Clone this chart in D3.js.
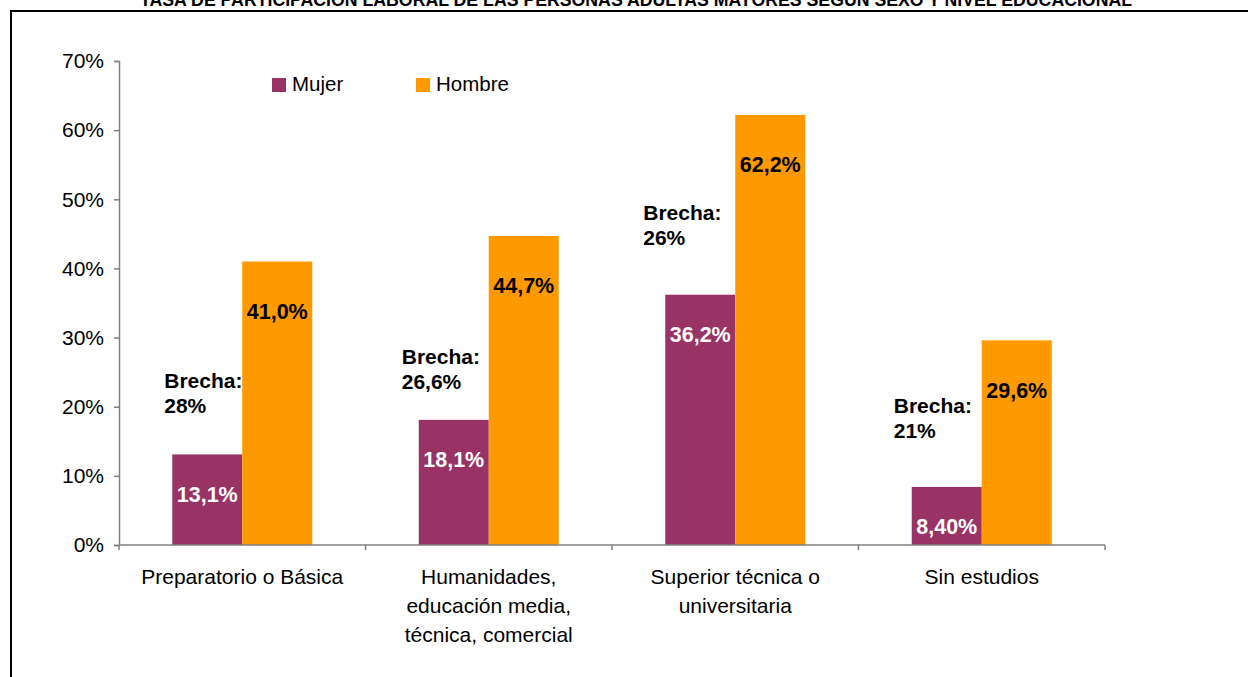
<!DOCTYPE html>
<html>
<head>
<meta charset="utf-8">
<script src="https://cdn.jsdelivr.net/npm/d3@7/dist/d3.min.js"></script>
<style>
  html, body { margin: 0; padding: 0; background: #fff; }
  svg { display: block; font-family: "Liberation Sans", Arial, sans-serif; }
</style>
</head>
<body>
<svg id="chart" width="1248" height="677"></svg>
<script>
const title = "TASA DE PARTICIPACIÓN LABORAL DE LAS PERSONAS ADULTAS MAYORES SEGÚN SEXO Y NIVEL EDUCACIONAL";
const categories = [
  ["Preparatorio o Básica"],
  ["Humanidades,", "educación media,", "técnica, comercial"],
  ["Superior técnica o", "universitaria"],
  ["Sin estudios"]
];
const series = ["Mujer", "Hombre"];
const mujer = [13.1, 18.1, 36.2, 8.4];
const hombre = [41.0, 44.7, 62.2, 29.6];
const mujerLabels = ["13,1%", "18,1%", "36,2%", "8,40%"];
const hombreLabels = ["41,0%", "44,7%", "62,2%", "29,6%"];
const brechaLabels = ["28%", "26,6%", "26%", "21%"];
const brechaLevel = [23.7, 27.2, 48.0, 20.2];
const yTicks = [0, 10, 20, 30, 40, 50, 60, 70];
const colors = { Mujer: "#993366", Hombre: "#FF9900" };

(function () {
const svg = d3.select("#chart");

// frame
svg.append("rect").attr("x", 11).attr("y", 11).attr("width", 1400).attr("height", 800)
  .attr("fill", "none").attr("stroke", "#000").attr("stroke-width", 2);

// title
svg.append("text").attr("x", 636).attr("y", 6).attr("text-anchor", "middle")
  .attr("font-family", "'Liberation Sans Narrow', 'Arial Narrow', 'Liberation Sans', sans-serif")
  .attr("font-weight", "bold").attr("font-size", 18)
  .attr("textLength", 992).attr("lengthAdjust", "spacingAndGlyphs")
  .text(title);

const pl = 119, pr = 1105, pt = 61, pb = 545;
const idx = d3.range(categories.length);
const x0 = d3.scaleBand().domain(idx).range([pl, pr]).padding(0);
const bw = x0.bandwidth();
const groupW = 140;
const x1 = d3.scaleBand().domain(series).range([(bw - groupW) / 2, (bw + groupW) / 2]).padding(0);
const y = d3.scaleLinear().domain([0, 70]).range([pb, pt]);

// y axis
const yAxis = svg.append("g").attr("transform", `translate(${pl},0)`)
  .call(d3.axisLeft(y).tickValues(yTicks).tickSize(5).tickPadding(10).tickFormat(d => d + "%"));
yAxis.select(".domain").attr("stroke", "#808080").attr("stroke-width", 1.5);
yAxis.selectAll(".tick line").attr("stroke", "#808080").attr("stroke-width", 1.5);
yAxis.selectAll(".tick text").attr("font-size", 21).attr("fill", "#000")
  .attr("font-family", "'Liberation Sans', Arial, sans-serif");

// bars
const data = idx.map(i => ({ i, Mujer: mujer[i], Hombre: hombre[i] }));
const g = svg.append("g");
const groups = g.selectAll("g.cat").data(data).join("g").attr("class", "cat")
  .attr("transform", d => `translate(${x0(d.i)},0)`);
groups.selectAll("rect").data(d => series.map(s => ({ s, v: d[s] }))).join("rect")
  .attr("x", d => x1(d.s)).attr("width", x1.bandwidth())
  .attr("y", d => y(d.v)).attr("height", d => y(0) - y(d.v))
  .attr("fill", d => colors[d.s]);

// x axis
const xAxis = svg.append("g").attr("transform", `translate(0,${pb})`);
xAxis.append("line").attr("x1", pl).attr("x2", pr).attr("y1", 0).attr("y2", 0)
  .attr("stroke", "#808080").attr("stroke-width", 1.5);
xAxis.selectAll("line.tk").data(d3.range(categories.length + 1)).join("line").attr("class", "tk")
  .attr("x1", d => pl + d * bw).attr("x2", d => pl + d * bw)
  .attr("y1", 0).attr("y2", 5).attr("stroke", "#808080").attr("stroke-width", 1.5);

// category labels
idx.forEach(i => {
  const t = svg.append("text").attr("text-anchor", "middle").attr("font-size", 21).attr("fill", "#000");
  categories[i].forEach((line, k) => {
    t.append("tspan").attr("x", x0(i) + bw / 2).attr("y", 583.5 + k * 29).text(line);
  });
});

// value labels
idx.forEach(i => {
  svg.append("text").attr("x", x0(i) + x1("Mujer") + x1.bandwidth() / 2)
    .attr("y", y(mujer[i]) + 40).attr("dy", "0.35em").attr("text-anchor", "middle")
    .attr("font-size", 21.5).attr("font-weight", "bold").attr("fill", "#fff").text(mujerLabels[i]);
  svg.append("text").attr("x", x0(i) + x1("Hombre") + x1.bandwidth() / 2)
    .attr("y", y(hombre[i]) + 50).attr("dy", "0.35em").attr("text-anchor", "middle")
    .attr("font-size", 21.5).attr("font-weight", "bold").attr("fill", "#000").text(hombreLabels[i]);
});

// brecha annotations (anchored just left of the Mujer bar)
const brechaShift = [8, 17, 22, 18];
idx.forEach(i => {
  const bx = x0(i) + x1("Mujer") - brechaShift[i];
  const by = y(brechaLevel[i]);
  const t = svg.append("text").attr("font-size", 21).attr("font-weight", "bold").attr("fill", "#000");
  t.append("tspan").attr("x", bx).attr("y", by).attr("dy", "0.35em").text("Brecha:");
  t.append("tspan").attr("x", bx).attr("y", by + 25).attr("dy", "0.35em").text(brechaLabels[i]);
});

// legend
const legend = svg.append("g");
const legX = [272, 416];
series.forEach((s, k) => {
  legend.append("rect").attr("x", legX[k]).attr("y", 78).attr("width", 14).attr("height", 14).attr("fill", colors[s]);
  legend.append("text").attr("x", legX[k] + 20).attr("y", 84).attr("dy", "0.35em")
    .attr("font-size", 20.5).attr("fill", "#000").text(s);
});
})();
</script>
</body>
</html>
